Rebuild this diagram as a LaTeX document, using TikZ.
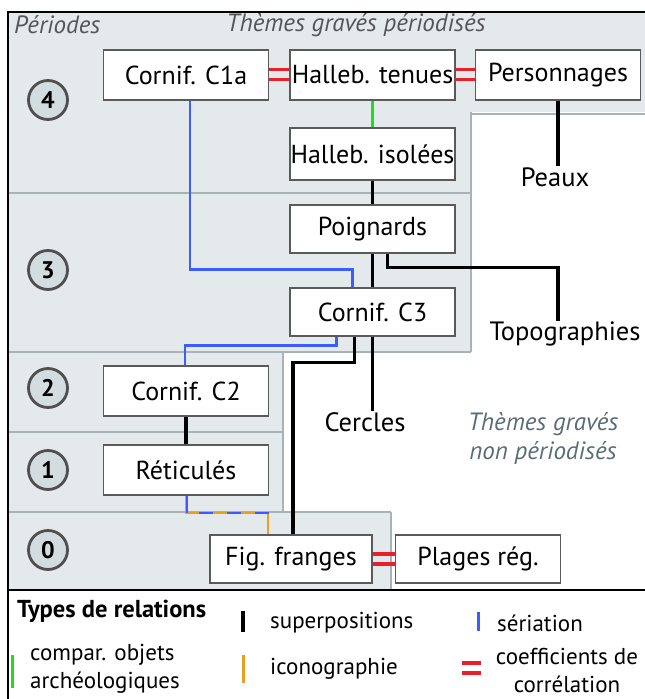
\documentclass[tikz,border=0pt]{standalone}
\usepackage{fontspec}
\setmainfont{PT Sans}
\usetikzlibrary{calc}
\definecolor{bandfill}{HTML}{E4EAEC}
\definecolor{bandline}{HTML}{A8B3B7}
\definecolor{boxline}{HTML}{5A5A5A}
\definecolor{circfill}{HTML}{D3DCDF}
\definecolor{circline}{HTML}{4F4F4F}
\definecolor{serblue}{HTML}{3C5CFF}
\definecolor{archgreen}{HTML}{22DD1E}
\definecolor{iconorange}{HTML}{E8A021}
\definecolor{corrred}{HTML}{E8202A}
\definecolor{headgray}{HTML}{555555}
\definecolor{npgray}{HTML}{5B6B78}
\begin{document}
\begin{tikzpicture}[x=1pt,y=-1pt,
  themebox/.style={draw=boxline, line width=1.1pt, fill=white, minimum width=165pt, minimum height=50pt, inner sep=0pt, font=\fontsize{26}{30}\selectfont},
  freelabel/.style={inner sep=1pt, font=\fontsize{26.5}{30}\selectfont},
  periodc/.style={circle, draw=circline, line width=2.8pt, fill=circfill, minimum size=39pt, inner sep=0pt, font=\bfseries\fontsize{24}{26}\selectfont},
  heading/.style={inner sep=0pt, text=headgray, font=\itshape\fontsize{25}{28}\selectfont},
  superp/.style={line width=3.3pt, black},
  seria/.style={line width=2.8pt, serblue},
  archeo/.style={line width=2.8pt, archgreen},
  icono/.style={line width=2.8pt, iconorange},
  corr/.style={line width=3.2pt, corrred},
  legtext/.style={inner sep=0pt, font=\fontsize{23}{28}\selectfont, align=left},
  bandsep/.style={line width=2.6pt, bandline}
]
\useasboundingbox (0,0) rectangle (645,699);
% background bands
\fill[bandfill] (8,12) -- (648,12) -- (648,112) -- (470,112) -- (470,352) -- (282,352) -- (282,512) -- (390,512) -- (390,590) -- (8,590) -- cycle;
\draw[bandsep] (470,114) -- (648,114);
\draw[bandsep] (471,112) -- (471,352);
\draw[bandsep] (8,193) -- (471,193);
\draw[bandsep] (8,352) -- (471,352);
\draw[bandsep] (8,432) -- (283,432);
\draw[bandsep] (283,352) -- (283,512);
\draw[bandsep] (8,512) -- (391,512);
\draw[bandsep] (391,512) -- (391,590);
% frame
\draw[line width=1.6pt] (8,699) -- (8,12) -- (648,12);
\draw[line width=2pt] (8,590) -- (648,590);
% headings
\node[heading, anchor=west] (hper) at (14,25) {Périodes};
\node[heading] (hthem) at (356,25) {Thèmes gravés périodisés};
\node[heading, text=npgray, align=center, font=\itshape\fontsize{25}{29}\selectfont] (hnp) at (543,438) {Thèmes gravés\\non périodisés};
% period circles
\node[periodc] (p4) at (48,100) {4};
\node[periodc] (p3) at (48,270) {3};
\node[periodc] (p2) at (48,388) {2};
\node[periodc] (p1) at (48,470) {1};
\node[periodc] (p0) at (48,550) {0};
% theme boxes
\node[themebox] (c1a) at (186,75) {Cornif. C1a};
\node[themebox] (ht) at (372.5,75) {Halleb. tenues};
\node[themebox] (pers) at (558,75) {Personnages};
\node[themebox, minimum height=52pt] (hi) at (372.5,154) {Halleb. isolées};
\node[themebox, minimum height=48pt] (poi) at (372.5,229) {Poignards};
\node[themebox, minimum height=48pt] (c3) at (372.5,312) {Cornif. C3};
\node[themebox] (c2) at (186,391) {Cornif. C2};
\node[themebox] (ret) at (186,470) {Réticulés};
\node[themebox, minimum width=162pt, minimum height=48pt] (ff) at (291,559) {Fig. franges};
\node[themebox, minimum height=48pt] (pr) at (478,559) {Plages rég.};
% free labels
\node[freelabel] (peaux) at (555,177) {Peaux};
\node[freelabel] (topo) at (565,334) {Topographies};
\node[freelabel] (cercles) at (365,422) {Cercles};
% correlations
\draw[corr] ($(c1a.east)+(0,-5.5)$) -- ($(ht.west)+(0,-5.5)$);
\draw[corr] ($(c1a.east)+(0,4.5)$) -- ($(ht.west)+(0,4.5)$);
\draw[corr] ($(ht.east)+(0,-5.5)$) -- ($(pers.west)+(0,-5.5)$);
\draw[corr] ($(ht.east)+(0,4.5)$) -- ($(pers.west)+(0,4.5)$);
\draw[corr] ($(ff.east)+(0,-5)$) -- ($(pr.west)+(0,-5)$);
\draw[corr] ($(ff.east)+(0,5)$) -- ($(pr.west)+(0,5)$);
% archaeological comparison
\draw[archeo] (ht.south) -- (hi.north);
% superpositions
\draw[superp] (hi.south) -- (poi.north);
\draw[superp] (poi.south) -- (c3.north);
\draw[superp] (pers.south) -- (pers.south |- peaux.north);
\draw[superp] ($(poi.south)+(15,0)$) -- ++(0,14) -| ($(topo.north)+(-7,0)$);
\draw[superp] (c3.south) -- (c3.south |- cercles.north);
\draw[superp] ($(c3.south)+(-18,0)$) -- ++(0,26) -| ($(ff.north)+(2,0)$);
\draw[superp] (c2.south) -- (ret.north);
% seriation
\draw[seria] ($(c1a.south)+(4,0)$) |- ($(c3.north)+(-20,-18)$) -- ($(c3.north)+(-20,0)$);
\draw[seria] ($(c3.south)+(-36,0)$) -- ++(0,9) -| ($(c2.north)+(-1,0)$);
% iconography + seriation (dashed)
\draw[icono] (ret.south) -- (ret.south |- 0,513) -| ($(ff.north)+(-23,0)$);
\draw[seria, line width=1.6pt] ($(ret.south)+(1.2,0)$) -- ($(ret.south)+(1.2,17)$);
\draw[seria, dash pattern=on 14pt off 14pt, dash phase=0pt] (199,513) -- (270,513);
% legend
\node[legtext, anchor=west, font=\bfseries\fontsize{24.5}{28}\selectfont] (lt) at (17,611) {Types de relations};
\draw[line width=4.5pt, black] (243,611) -- (243,632);
\node[legtext, anchor=west] (lsup) at (270,623) {superpositions};
\draw[line width=3pt, serblue] (478,612) -- (478,631);
\node[legtext, anchor=west] (lser) at (497,623) {sériation};
\draw[line width=3pt, archgreen] (12,655) -- (12,688);
\node[legtext, anchor=west, align=left] (larch) at (30,669) {compar. objets\\archéologiques};
\draw[line width=3pt, iconorange] (243,655) -- (243,683);
\node[legtext, anchor=west] (licon) at (270,669) {iconographie};
\draw[line width=3.2pt, corrred] (462,663) -- (481,663);
\draw[line width=3.2pt, corrred] (462,673) -- (481,673);
\node[legtext, align=center] (lcorr) at (567,670) {coefficients de\\corrélation};
\end{tikzpicture}
\end{document}
